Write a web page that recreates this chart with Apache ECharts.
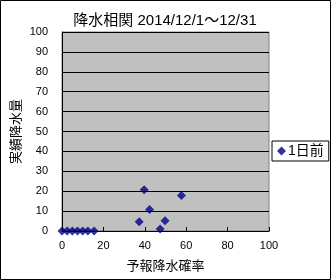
<!DOCTYPE html>
<html>
<head>
<meta charset="utf-8">
<script src="https://cdn.jsdelivr.net/npm/echarts@6/dist/echarts.min.js"></script>
<style>html,body{margin:0;padding:0;background:#fff}#c{width:331px;height:280px}</style>
</head>
<body>
<div id="c"></div>
<script>
const titleText = '降水相関 2014/12/1～12/31';
const xName = '予報降水確率';
const yName = '実績降水量';
const seriesName = '1日前';
const forecastProb = [0, 2.5, 5, 7.5, 10, 12.5, 15.5, 39.7, 57.7, 42.3, 37.3, 49.8, 47.4];
const actualRain   = [0, 0, 0, 0, 0, 0, 0, 20.7, 17.8, 10.8, 4.7, 5.2, 1.0];

const FONT = "'Liberation Sans', 'Noto Sans CJK JP', sans-serif";
const points = forecastProb.map((x, i) => [x, actualRain[i]]);

const chart = echarts.init(document.getElementById('c'), null, {renderer: 'canvas'});
chart.setOption({
  backgroundColor: '#fff',
  animation: false,
  textStyle: {fontFamily: FONT},
  title: {
    text: titleText,
    left: 160, top: 8, textAlign: 'center',
    textStyle: {fontSize: 15, fontWeight: 'normal', color: '#000', fontFamily: FONT}
  },
  grid: {
    left: 62, top: 32, width: 207, height: 199,
    outerBoundsMode: 'none', containLabel: false,
    show: true, backgroundColor: '#C0C0C0', borderColor: '#808080', borderWidth: 1
  },
  legend: {
    left: 272, top: 141,
    itemWidth: 9, itemHeight: 9, itemGap: 2,
    padding: [3, 5, 3, 5],
    borderColor: '#000', borderWidth: 1,
    textStyle: {fontSize: 14, color: '#000', fontFamily: FONT, padding: [0, 0, 0, -3]},
    data: [{name: seriesName, icon: 'diamond'}]
  },
  xAxis: {
    type: 'value', min: 0, max: 100, interval: 20,
    name: xName, nameLocation: 'middle', nameGap: 29, nameMoveOverlap: false,
    nameTextStyle: {fontSize: 13, color: '#000', fontFamily: FONT},
    axisLine: {show: true, lineStyle: {color: '#000', width: 1}},
    axisTick: {show: true, inside: true, length: 4, lineStyle: {color: '#000'}},
    axisLabel: {fontSize: 11, color: '#000', margin: 9, fontFamily: FONT},
    splitLine: {show: false}
  },
  yAxis: {
    type: 'value', min: 0, max: 100, interval: 10,
    name: yName, nameLocation: 'middle', nameGap: 39, nameRotate: 90, nameMoveOverlap: false,
    nameTextStyle: {fontSize: 13, color: '#000', fontFamily: FONT},
    axisLine: {show: true, lineStyle: {color: '#000', width: 1}},
    axisTick: {show: false},
    axisLabel: {fontSize: 11, color: '#000', margin: 14, fontFamily: FONT},
    splitLine: {show: true, lineStyle: {color: '#000', width: 1}}
  },
  series: [{
    name: seriesName, type: 'scatter', symbol: 'diamond', symbolSize: 9,
    clip: false,
    itemStyle: {color: '#000080'},
    data: points
  }],
  graphic: [{
    type: 'rect', silent: true, z: 100,
    shape: {x: 0.5, y: 0.5, width: 330, height: 279},
    style: {fill: 'none', stroke: '#000', lineWidth: 1}
  }]
});
</script>
</body>
</html>
